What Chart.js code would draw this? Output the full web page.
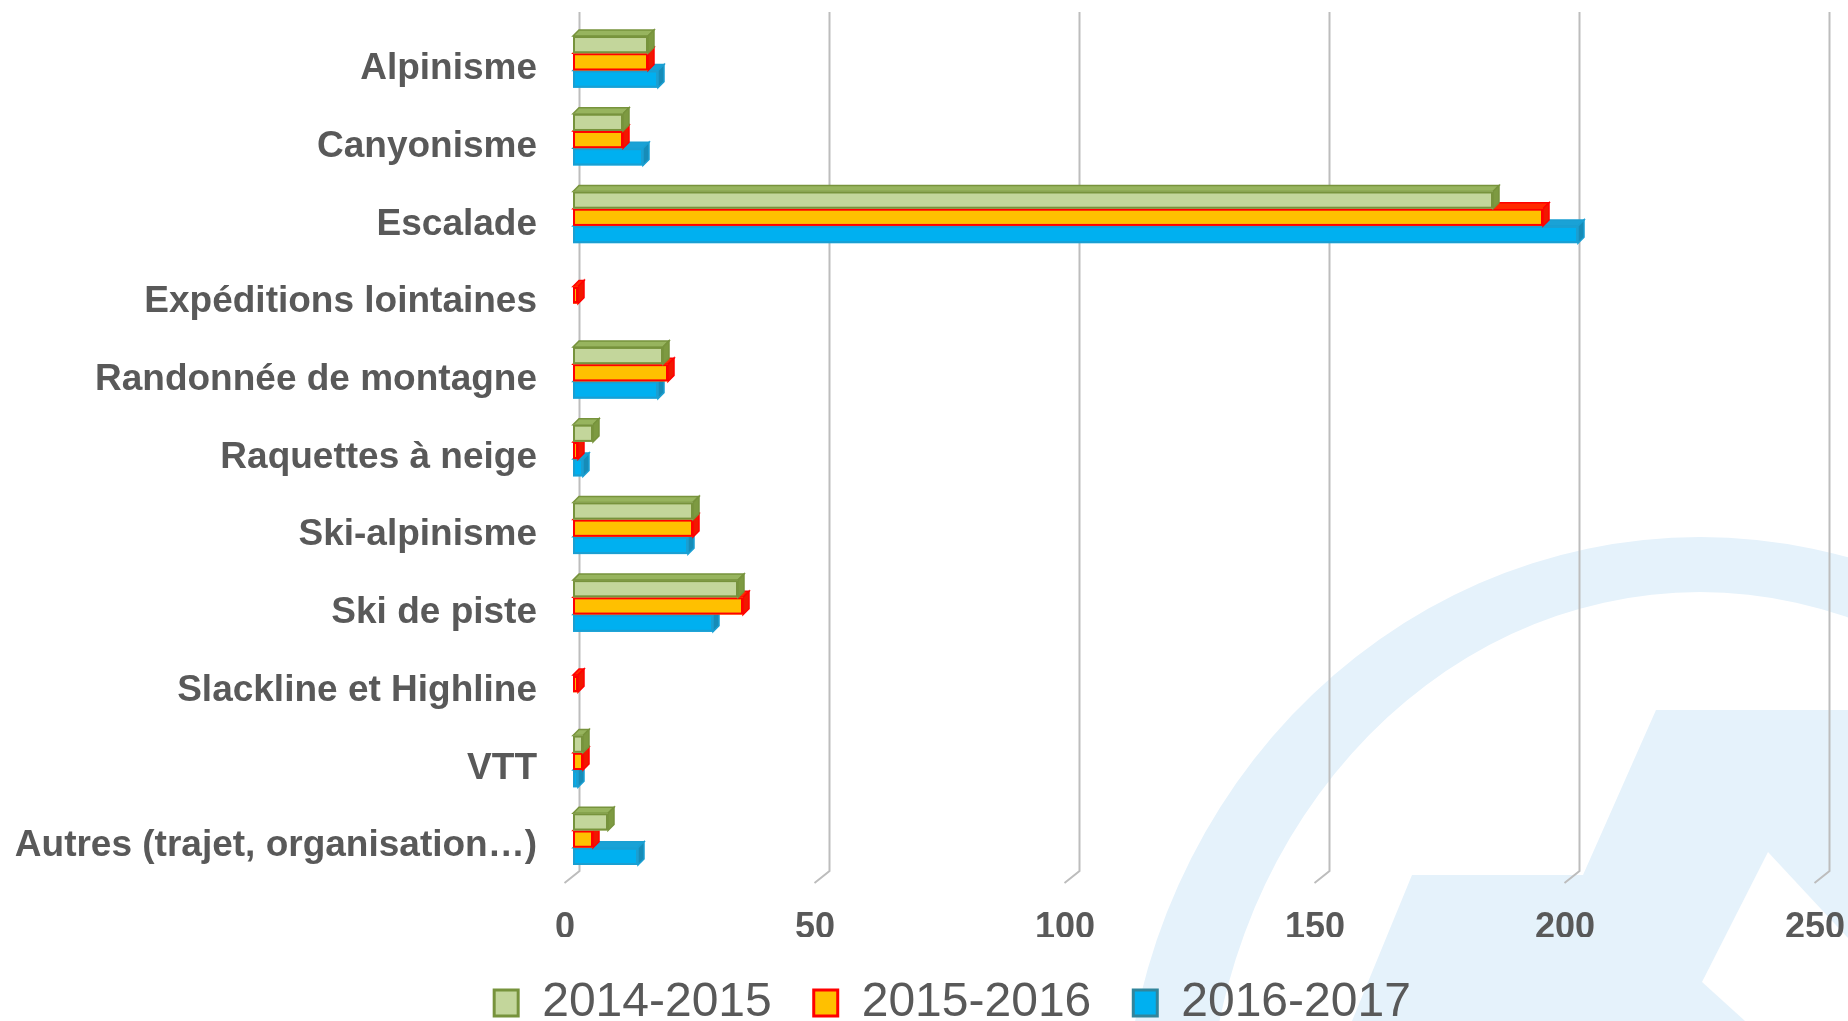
<!DOCTYPE html>
<html>
<head>
<meta charset="utf-8">
<script src="https://cdn.jsdelivr.net/npm/chart.js@4.4.1/dist/chart.umd.min.js"></script>
<style>
  html, body { margin: 0; padding: 0; background: #ffffff; }
  #wrap { position: relative; width: 1848px; height: 1021px; overflow: hidden; }
  canvas { display: block; }
</style>
</head>
<body>
<div id="wrap"><canvas id="chart" width="1848" height="1021"></canvas></div>
<script>
// ---------- DATA ----------
const categories = [
  'Alpinisme',
  'Canyonisme',
  'Escalade',
  'Expéditions lointaines',
  'Randonnée de montagne',
  'Raquettes à neige',
  'Ski-alpinisme',
  'Ski de piste',
  'Slackline et Highline',
  'VTT',
  'Autres (trajet, organisation…)'
];
const seriesNames = ['2014-2015', '2015-2016', '2016-2017'];
const values20142015 = [15, 10, 184, 0, 18, 4, 24, 33, 0, 2, 7];
const values20152016 = [15, 10, 194, 1, 19, 1, 24, 34, 1, 2, 4];
const values20162017 = [17, 14, 201, 0, 17, 2, 23, 28, 0, 1, 13];
const xTickMin = 0;
const xTickMax = 250;
const xTickStep = 50;

// ---------- STYLE ----------
const TEXT = '#595959';
const FONT = "'Liberation Sans', Arial, Helvetica, sans-serif";
const faceStyles = [
  { front: '#c3d69b', edge: '#77933c', top: '#97b45e', side: '#7d9a41' },
  { front: '#ffc000', edge: '#ff0000', top: '#ff2a00', side: '#f01800' },
  { front: '#00b0f0', edge: '#1a9fd2', top: '#1aa2d6', side: '#168cb8' }
];
const DEPTH = { dx: 6, dy: -6 };   // projected depth of each bar
const FRONT = { dx: -6, dy: -3 };  // front face offset relative to scale position
const PAD_LEFT = 76;
const AREA_LEFT = 579;

function poly(ctx, pts, fill, stroke, lw) {
  ctx.beginPath();
  ctx.moveTo(pts[0][0], pts[0][1]);
  for (let k = 1; k < pts.length; k++) ctx.lineTo(pts[k][0], pts[k][1]);
  ctx.closePath();
  ctx.fillStyle = fill;
  ctx.fill();
  if (stroke) { ctx.strokeStyle = stroke; ctx.lineWidth = lw; ctx.lineJoin = 'miter'; ctx.stroke(); }
}

const decoPlugin = {
  id: 'deco',
  afterLayout(chart) {
    // let the long category labels use the whole left margin (no clipping)
    chart.scales.y.left = 0;
  },
  beforeDraw(chart) {
    // faint watermark logo in the background
    const ctx = chart.ctx;
    ctx.save();
    const wm = '#e5f2fb';
    ctx.fillStyle = wm;
    ctx.beginPath();
    ctx.ellipse(1700, 1145, 577, 608, 0, 0, Math.PI * 2, false);
    ctx.ellipse(1700, 1145, 493, 553, 0, 0, Math.PI * 2, true);
    ctx.fill('evenodd');
    poly(ctx, [[1656, 710], [1848, 710], [1848, 1021], [1352, 1021], [1412, 875], [1583, 875]], wm);
    poly(ctx, [[1768, 852], [1848, 938], [1848, 1021], [1745, 1021], [1702, 982]], '#ffffff');
    ctx.restore();
  },
  beforeDatasetsDraw(chart) {
    const ctx = chart.ctx;
    const area = chart.chartArea;
    const xs = chart.scales.x;
    ctx.save();
    // vertical gridlines on the back wall with floor foot
    ctx.strokeStyle = '#bdbdbd';
    ctx.lineWidth = 2;
    xs.ticks.forEach(t => {
      const px = Math.round(xs.getPixelForValue(t.value)) + 0.5;
      ctx.beginPath();
      ctx.moveTo(px, area.top - 14);
      ctx.lineTo(px, area.bottom - 10);
      ctx.lineTo(px - 15, area.bottom + 2);
      ctx.stroke();
    });
    // 3D bars: draw lower series first so upper series covers their top faces
    const nCat = chart.data.labels.length;
    const nDs = chart.data.datasets.length;
    for (let j = 0; j < nCat; j++) {
      for (let i = nDs - 1; i >= 0; i--) {
        const v = chart.data.datasets[i].data[j];
        if (!v) continue;
        const el = chart.getDatasetMeta(i).data[j];
        const p = el.getProps(['x', 'y', 'base', 'height'], true);
        const st = faceStyles[i];
        const L = Math.min(p.base, p.x) + FRONT.dx;
        const R = Math.max(p.base, p.x) + FRONT.dx;
        const T = p.y - p.height / 2 + FRONT.dy;
        const B = p.y + p.height / 2 + FRONT.dy;
        const dx = DEPTH.dx, dy = DEPTH.dy;
        poly(ctx, [[L, T], [R, T], [R + dx, T + dy], [L + dx, T + dy]], st.top, st.edge, 1.5);
        poly(ctx, [[R, T], [R + dx, T + dy], [R + dx, B + dy], [R, B]], st.side, st.edge, 1.5);
        ctx.fillStyle = st.front;
        ctx.fillRect(L, T, R - L, B - T);
        ctx.strokeStyle = st.edge;
        ctx.lineWidth = 2;
        ctx.strokeRect(L + 1, T + 1, R - L - 2, B - T - 2);
      }
    }
    ctx.restore();
    return false;
  }
};

const seriesValues = [values20142015, values20152016, values20162017];
const datasets = seriesNames.map((name, i) => ({
  label: name,
  data: seriesValues[i],
  backgroundColor: faceStyles[i].front,
  borderColor: i === 2 ? '#31859c' : faceStyles[i].edge,
  borderWidth: 3
}));

new Chart(document.getElementById('chart'), {
  type: 'bar',
  data: { labels: categories, datasets },
  plugins: [decoPlugin],
  options: {
    indexAxis: 'y',
    responsive: false,
    animation: false,
    devicePixelRatio: 1,
    layout: { padding: { left: PAD_LEFT, right: 19, top: 26, bottom: -16 } },
    datasets: { bar: { categoryPercentage: 0.665, barPercentage: 1 } },
    scales: {
      x: {
        min: xTickMin,
        max: xTickMax,
        border: { display: false },
        grid: { display: false, drawTicks: false },
        ticks: {
          stepSize: xTickStep,
          color: TEXT,
          padding: 25,
          labelOffset: -14,
          font: { family: FONT, size: 36, weight: 'bold' }
        },
        afterFit(scale) { scale.height = 56; scale.paddingLeft = 0; scale.paddingRight = 0; }
      },
      y: {
        border: { display: false },
        grid: { display: false, drawTicks: false },
        ticks: {
          color: TEXT,
          padding: 42,
          labelOffset: 4,
          font: { family: FONT, size: 37, weight: 'bold' }
        },
        afterFit(scale) { scale.width = AREA_LEFT - PAD_LEFT; scale.paddingTop = 0; scale.paddingBottom = 0; }
      }
    },
    plugins: {
      tooltip: { enabled: false },
      legend: {
        position: 'bottom',
        align: 'center',
        labels: {
          color: TEXT,
          boxWidth: 24,
          boxHeight: 26,
          padding: 42,
          font: { family: FONT, size: 48, weight: 'normal' }
        }
      }
    }
  }
});
</script>
</body>
</html>
